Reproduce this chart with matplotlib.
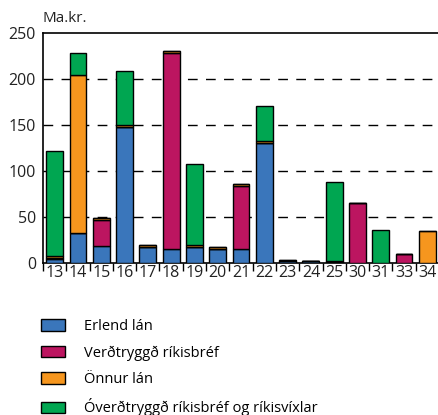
import matplotlib
matplotlib.use("Agg")
import matplotlib.pyplot as plt
import numpy as np

categories = ["13", "14", "15", "16", "17", "18", "19", "20", "21", "22", "23", "24", "25", "30", "31", "33", "34"]
erlend = [5, 33, 19, 148, 18, 16, 18, 15.5, 16, 131, 2.5, 3, 1, 0, 0, 0, 0]
verdtr = [1, 0, 28, 0, 0, 213, 0, 0, 68, 0, 0, 0, 1.5, 66, 0, 10, 0]
onnur = [1.5, 172, 2, 2, 2, 2, 2, 2, 2, 2, 1.5, 0, 0, 0, 0, 0, 35]
overdtr = [115, 23.5, 0, 59, 0, 0, 87.5, 0, 0, 38, 0, 0, 86, 0, 36, 0, 0]

series_names = ["Erlend lán", "Verðtryggð ríkisbréf", "Önnur lán", "Óverðtryggð ríkisbréf og ríkisvíxlar"]
colors = ["#3A76BB", "#BC1560", "#F6961E", "#00A651"]
y_ticks = [0, 50, 100, 150, 200, 250]

plt.rcParams['font.family'] = ['Open Sans', 'DejaVu Sans']

W, H = 439, 415
fig = plt.figure(figsize=(W / 100, H / 100), dpi=100)
ax = fig.add_axes([43 / W, 1 - 263.3 / H, (439 - 43) / W, (263.3 - 33.3) / H])

x = np.arange(len(categories))
bottom = np.zeros(len(categories))
handles = []
for vals, c, name in zip([erlend, verdtr, onnur, overdtr], colors, series_names):
    v = np.array(vals, dtype=float)
    b = ax.bar(x, v, width=0.72, bottom=bottom, color=c, edgecolor="black",
               linewidth=1.0, label=name, zorder=3)
    handles.append(b)
    bottom += v

ax.set_xlim(-0.5, len(categories) - 0.5)
ax.set_ylim(0, 250)
ax.set_yticks(y_ticks)
ax.set_yticklabels([str(t) for t in y_ticks], fontsize=11.5, color="#222222")
ax.tick_params(axis="y", length=0, pad=5)

ax.set_xticks(x)
ax.set_xticklabels(categories, fontsize=11.5, color="#222222")
ax.tick_params(axis="x", which="major", length=0, pad=1)
ax.set_xticks(np.arange(-0.5, len(categories), 1.0), minor=True)
ax.tick_params(axis="x", which="minor", length=6, width=1, color="black", direction="out")

for y in y_ticks[1:-1]:
    ax.axhline(y, color="black", linewidth=1.0, linestyle=(0, (7, 6)), zorder=1)

for s in ["left", "bottom", "top"]:
    ax.spines[s].set_color("black")
    ax.spines[s].set_linewidth(1.2)
ax.spines["right"].set_visible(False)

ax.text(0, 1.03, "Ma.kr.", transform=ax.transAxes, fontsize=11, ha="left",
        va="bottom", color="#222222")

fig.legend(handles=handles, labels=series_names, loc="upper left",
           bbox_to_anchor=(41 / W, 1 - 319 / H), frameon=False, fontsize=10.5,
           handlelength=1.65, handleheight=0.8, handletextpad=1.3,
           labelspacing=0.78, borderpad=0, borderaxespad=0)

fig.savefig("out.png", dpi=100)
